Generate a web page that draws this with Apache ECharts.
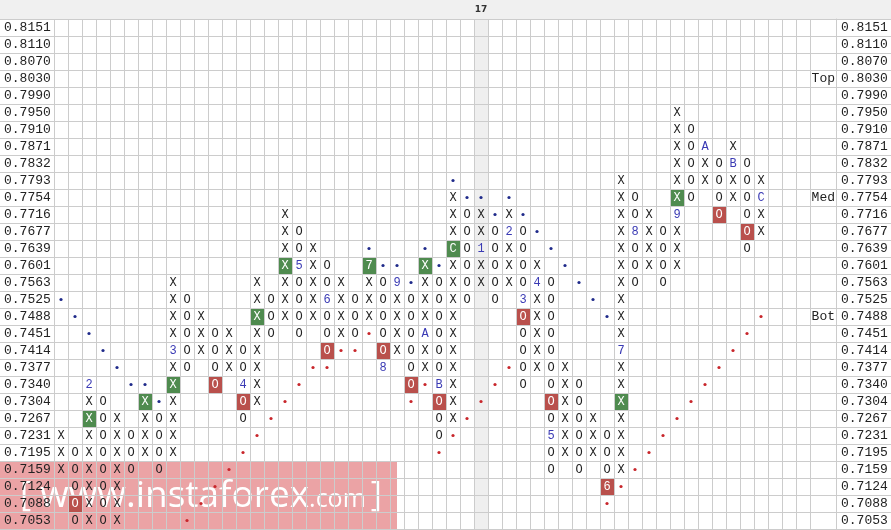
<!DOCTYPE html>
<html><head><meta charset="utf-8">
<script src="https://cdn.jsdelivr.net/npm/echarts@6/dist/echarts.min.js"></script>
<style>html,body{margin:0;padding:0;background:#fff}#c{width:891px;height:530px}</style>
</head><body><div id="c"></div>
<script>
// ---- data ----
const priceLevels = ['0.8151','0.8110','0.8070','0.8030','0.7990','0.7950','0.7910','0.7871','0.7832','0.7793',
  '0.7754','0.7716','0.7677','0.7639','0.7601','0.7563','0.7525','0.7488','0.7451','0.7414',
  '0.7377','0.7340','0.7304','0.7267','0.7231','0.7195','0.7159','0.7124','0.7088','0.7053'];
const columnCount = 54;
const highlightColumn = 30;
const highlightLabel = '17';
// [column, symbol, high price, low price]
const pfColumns = [
  [0,'X','0.7231','0.7159'],[1,'O','0.7195','0.7053'],[2,'X','0.7340','0.7053'],[3,'O','0.7304','0.7053'],
  [4,'X','0.7267','0.7053'],[5,'O','0.7231','0.7159'],[6,'X','0.7304','0.7195'],[7,'O','0.7267','0.7159'],
  [8,'X','0.7563','0.7195'],[9,'O','0.7525','0.7377'],[10,'X','0.7488','0.7414'],[11,'O','0.7451','0.7340'],
  [12,'X','0.7451','0.7377'],[13,'O','0.7414','0.7267'],[14,'X','0.7563','0.7304'],[15,'O','0.7525','0.7451'],
  [16,'X','0.7716','0.7488'],[17,'O','0.7677','0.7451'],[18,'X','0.7639','0.7488'],[19,'O','0.7601','0.7414'],
  [20,'X','0.7563','0.7451'],[21,'O','0.7525','0.7451'],[22,'X','0.7601','0.7488'],[23,'O','0.7563','0.7377'],
  [24,'X','0.7563','0.7414'],[25,'O','0.7525','0.7340'],[26,'X','0.7601','0.7377'],[27,'O','0.7563','0.7231'],
  [28,'X','0.7754','0.7267'],[29,'O','0.7716','0.7525'],[30,'X','0.7716','0.7563'],[31,'O','0.7677','0.7525'],
  [32,'X','0.7716','0.7563'],[33,'O','0.7677','0.7340'],[34,'X','0.7601','0.7377'],[35,'O','0.7563','0.7159'],
  [36,'X','0.7377','0.7195'],[37,'O','0.7340','0.7159'],[38,'X','0.7267','0.7195'],[39,'O','0.7231','0.7124'],
  [40,'X','0.7793','0.7159'],[41,'O','0.7754','0.7563'],[42,'X','0.7716','0.7601'],[43,'O','0.7677','0.7563'],
  [44,'X','0.7950','0.7601'],[45,'O','0.7910','0.7754'],[46,'X','0.7871','0.7793'],[47,'O','0.7832','0.7716'],
  [48,'X','0.7871','0.7754'],[49,'O','0.7832','0.7639'],[50,'X','0.7793','0.7677']
];
// month markers [column, price, text]
const monthMarks = [
  [2,'0.7340','2'],[8,'0.7414','3'],[13,'0.7340','4'],[17,'0.7601','5'],[19,'0.7525','6'],[23,'0.7377','8'],
  [24,'0.7563','9'],[26,'0.7451','A'],[27,'0.7340','B'],[30,'0.7639','1'],[32,'0.7677','2'],[33,'0.7525','3'],
  [34,'0.7563','4'],[35,'0.7231','5'],[40,'0.7414','7'],[41,'0.7677','8'],[44,'0.7716','9'],[46,'0.7871','A'],
  [48,'0.7832','B'],[50,'0.7754','C']
];
const greenBoxes = [
  [2,'0.7267','X'],[6,'0.7304','X'],[8,'0.7340','X'],[14,'0.7488','X'],[16,'0.7601','X'],[22,'0.7601','7'],
  [26,'0.7601','X'],[28,'0.7639','C'],[40,'0.7304','X'],[44,'0.7754','X']
];
const redBoxes = [
  [1,'0.7088','O'],[11,'0.7340','O'],[13,'0.7304','O'],[19,'0.7414','O'],[23,'0.7414','O'],[25,'0.7340','O'],
  [27,'0.7304','O'],[33,'0.7488','O'],[35,'0.7304','O'],[39,'0.7124','6'],[47,'0.7716','O'],[49,'0.7677','O']
];
const blueDots = [
  [0,'0.7525'],[1,'0.7488'],[2,'0.7451'],[3,'0.7414'],[4,'0.7377'],[5,'0.7340'],[6,'0.7340'],[7,'0.7304'],
  [22,'0.7639'],[23,'0.7601'],[24,'0.7601'],[25,'0.7563'],[26,'0.7639'],[27,'0.7601'],
  [28,'0.7793'],[29,'0.7754'],[30,'0.7754'],[31,'0.7716'],[32,'0.7754'],[33,'0.7716'],[34,'0.7677'],
  [35,'0.7639'],[36,'0.7601'],[37,'0.7563'],[38,'0.7525'],[39,'0.7488']
];
const redDots = [
  [9,'0.7053'],[10,'0.7088'],[11,'0.7124'],[12,'0.7159'],[13,'0.7195'],[14,'0.7231'],[15,'0.7267'],
  [16,'0.7304'],[17,'0.7340'],[18,'0.7377'],[19,'0.7377'],[20,'0.7414'],[21,'0.7414'],[22,'0.7451'],
  [25,'0.7304'],[26,'0.7340'],
  [27,'0.7195'],[28,'0.7231'],[29,'0.7267'],[30,'0.7304'],[31,'0.7340'],[32,'0.7377'],
  [39,'0.7088'],[40,'0.7124'],[41,'0.7159'],[42,'0.7195'],[43,'0.7231'],[44,'0.7267'],[45,'0.7304'],
  [46,'0.7340'],[47,'0.7377'],[48,'0.7414'],[49,'0.7451'],[50,'0.7488']
];
const levelLabels = [['0.8030','Top'],['0.7754','Med'],['0.7488','Bot']];

// ---- build ----
const rowOf = p => priceLevels.indexOf(p);
const cellMap = new Map();
pfColumns.forEach(([c, t, hi, lo]) => {
  for (let r = rowOf(hi); r <= rowOf(lo); r++) cellMap.set(c + '|' + r, {col: c, row: r, text: t, kind: 'plain'});
});
monthMarks.forEach(([c, p, t]) => cellMap.set(c + '|' + rowOf(p), {col: c, row: rowOf(p), text: t, kind: 'month'}));
greenBoxes.forEach(([c, p, t]) => cellMap.set(c + '|' + rowOf(p), {col: c, row: rowOf(p), text: t, kind: 'green'}));
redBoxes.forEach(([c, p, t]) => cellMap.set(c + '|' + rowOf(p), {col: c, row: rowOf(p), text: t, kind: 'red'}));
const cells = Array.from(cellMap.values());
const dots = blueDots.map(([c, p]) => ({col: c, row: rowOf(p), color: '#1f2a8a'}))
  .concat(redDots.map(([c, p]) => ({col: c, row: rowOf(p), color: '#c8262b'})));
const levelMap = {};
levelLabels.forEach(([p, t]) => levelMap[p] = t);
const colCats = Array.from({length: columnCount}, (_, i) => String(i));

const GRID = '#cccccc';
const MONO = '"Liberation Mono", "DejaVu Sans Mono", monospace';
const fillOf = {plain: '#222', month: '#3a3ab4', green: '#ffffff', red: '#ffffff'};
const boxOf = {green: '#4f8b4f', red: '#b9504c'};

const GTOP = 19, GH = 510;
const yBase = (gi, extra) => Object.assign({
  type: 'category', gridIndex: gi, data: priceLevels, inverse: true,
  axisLine: {show: false}, axisTick: {show: false},
  splitLine: {show: true, interval: 0, lineStyle: {color: GRID, width: 1}},
  axisLabel: {show: false}
}, extra);
const xHidden = gi => ({type: 'category', gridIndex: gi, data: [''], show: false});

const chart = echarts.init(document.getElementById('c'), null, {renderer: 'canvas'});
chart.setOption({
  animation: false,
  backgroundColor: '#ffffff',
  graphic: [
    {type: 'rect', z: -10, shape: {x: 0, y: 0, width: 891, height: GTOP}, style: {fill: '#f0f0f0'}},
    {type: 'group', z: 100, children: [
      {type: 'rect', shape: {x: 0, y: 462, width: 397, height: 68}, style: {fill: 'rgba(210,50,55,0.45)'}},
      {type: 'text', x: 20, y: 496, style: {
        text: '{b|[ }{w|www.instaforex}{c|.com}{e|]}', verticalAlign: 'middle',
        rich: {
          b: {fontSize: 34, fill: '#ffffff', fontFamily: 'Open Sans'},
          e: {fontSize: 34, fill: '#ffffff', fontFamily: 'Open Sans', padding: [0, 0, 0, 5]},
          w: {fontSize: 37, fill: '#ffffff', fontFamily: 'Open Sans'},
          c: {fontSize: 25, fill: '#ffffff', fontFamily: 'Open Sans', padding: [8, 0, 0, 0]}
        }}}
    ]}
  ],
  grid: [
    {left: 54, top: GTOP, width: 756, height: GH},
    {left: 0, top: GTOP, width: 54, height: GH},
    {left: 810, top: GTOP, width: 26, height: GH},
    {left: 836, top: GTOP, width: 55, height: GH}
  ],
  xAxis: [
    {type: 'category', gridIndex: 0, data: colCats, position: 'top',
     axisLine: {show: false}, axisTick: {show: false},
     splitLine: {show: true, interval: 0, lineStyle: {color: GRID, width: 1}},
     axisLabel: {interval: 0, margin: 5, fontSize: 9, fontWeight: 'bold', color: '#333', fontFamily: 'DejaVu Sans',
       formatter: (v, i) => i === highlightColumn ? highlightLabel : ''}},
    xHidden(1), xHidden(2), xHidden(3)
  ],
  yAxis: [
    yBase(0),
    yBase(1, {position: 'left', axisLabel: {show: true, inside: true, interval: 0, margin: 4, fontSize: 13, fontFamily: MONO, color: '#222'}}),
    yBase(2, {position: 'right', axisLine: {show: true, lineStyle: {color: GRID}},
      axisLabel: {show: true, inside: true, interval: 0, margin: 1, fontSize: 13, fontFamily: MONO, color: '#222',
        formatter: v => levelMap[v] || ''}}),
    yBase(3, {position: 'left', axisLabel: {show: true, inside: true, interval: 0, margin: 5, fontSize: 13, fontFamily: MONO, color: '#222'}})
  ],
  series: [
    {type: 'custom', xAxisIndex: 0, yAxisIndex: 0, z: -1, silent: true,
     data: [[highlightColumn, 0]],
     renderItem: (params, api) => {
       const p = api.coord([api.value(0), 0]);
       const bw = api.size([1, 1])[0];
       const cs = params.coordSys;
       return {type: 'rect', shape: {x: p[0] - bw / 2, y: cs.y, width: bw, height: cs.height}, style: {fill: '#efefef'}};
     }},
    {type: 'custom', xAxisIndex: 0, yAxisIndex: 0, silent: true,
     data: cells.map(c => [c.col, c.row]),
     renderItem: (params, api) => {
       const cell = cells[params.dataIndex];
       const p = api.coord([api.value(0), api.value(1)]);
       const sz = api.size([1, 1]);
       const children = [];
       if (boxOf[cell.kind]) {
         children.push({type: 'rect', shape: {x: p[0] - sz[0] / 2 + 1, y: p[1] - sz[1] / 2 + 1, width: sz[0] - 1, height: sz[1] - 1},
           style: {fill: boxOf[cell.kind]}});
       }
       children.push({type: 'text', x: p[0], y: p[1] + 0.5, style: {text: cell.text, fill: fillOf[cell.kind],
         font: '12px ' + MONO, align: 'center', verticalAlign: 'middle'}});
       return {type: 'group', children};
     }},
    {type: 'custom', xAxisIndex: 0, yAxisIndex: 0, silent: true,
     data: dots.map(d => [d.col, d.row]),
     renderItem: (params, api) => {
       const d = dots[params.dataIndex];
       const p = api.coord([api.value(0), api.value(1)]);
       return {type: 'circle', shape: {cx: p[0], cy: p[1], r: 1.6}, style: {fill: d.color}};
     }}
  ]
});
</script></body></html>
